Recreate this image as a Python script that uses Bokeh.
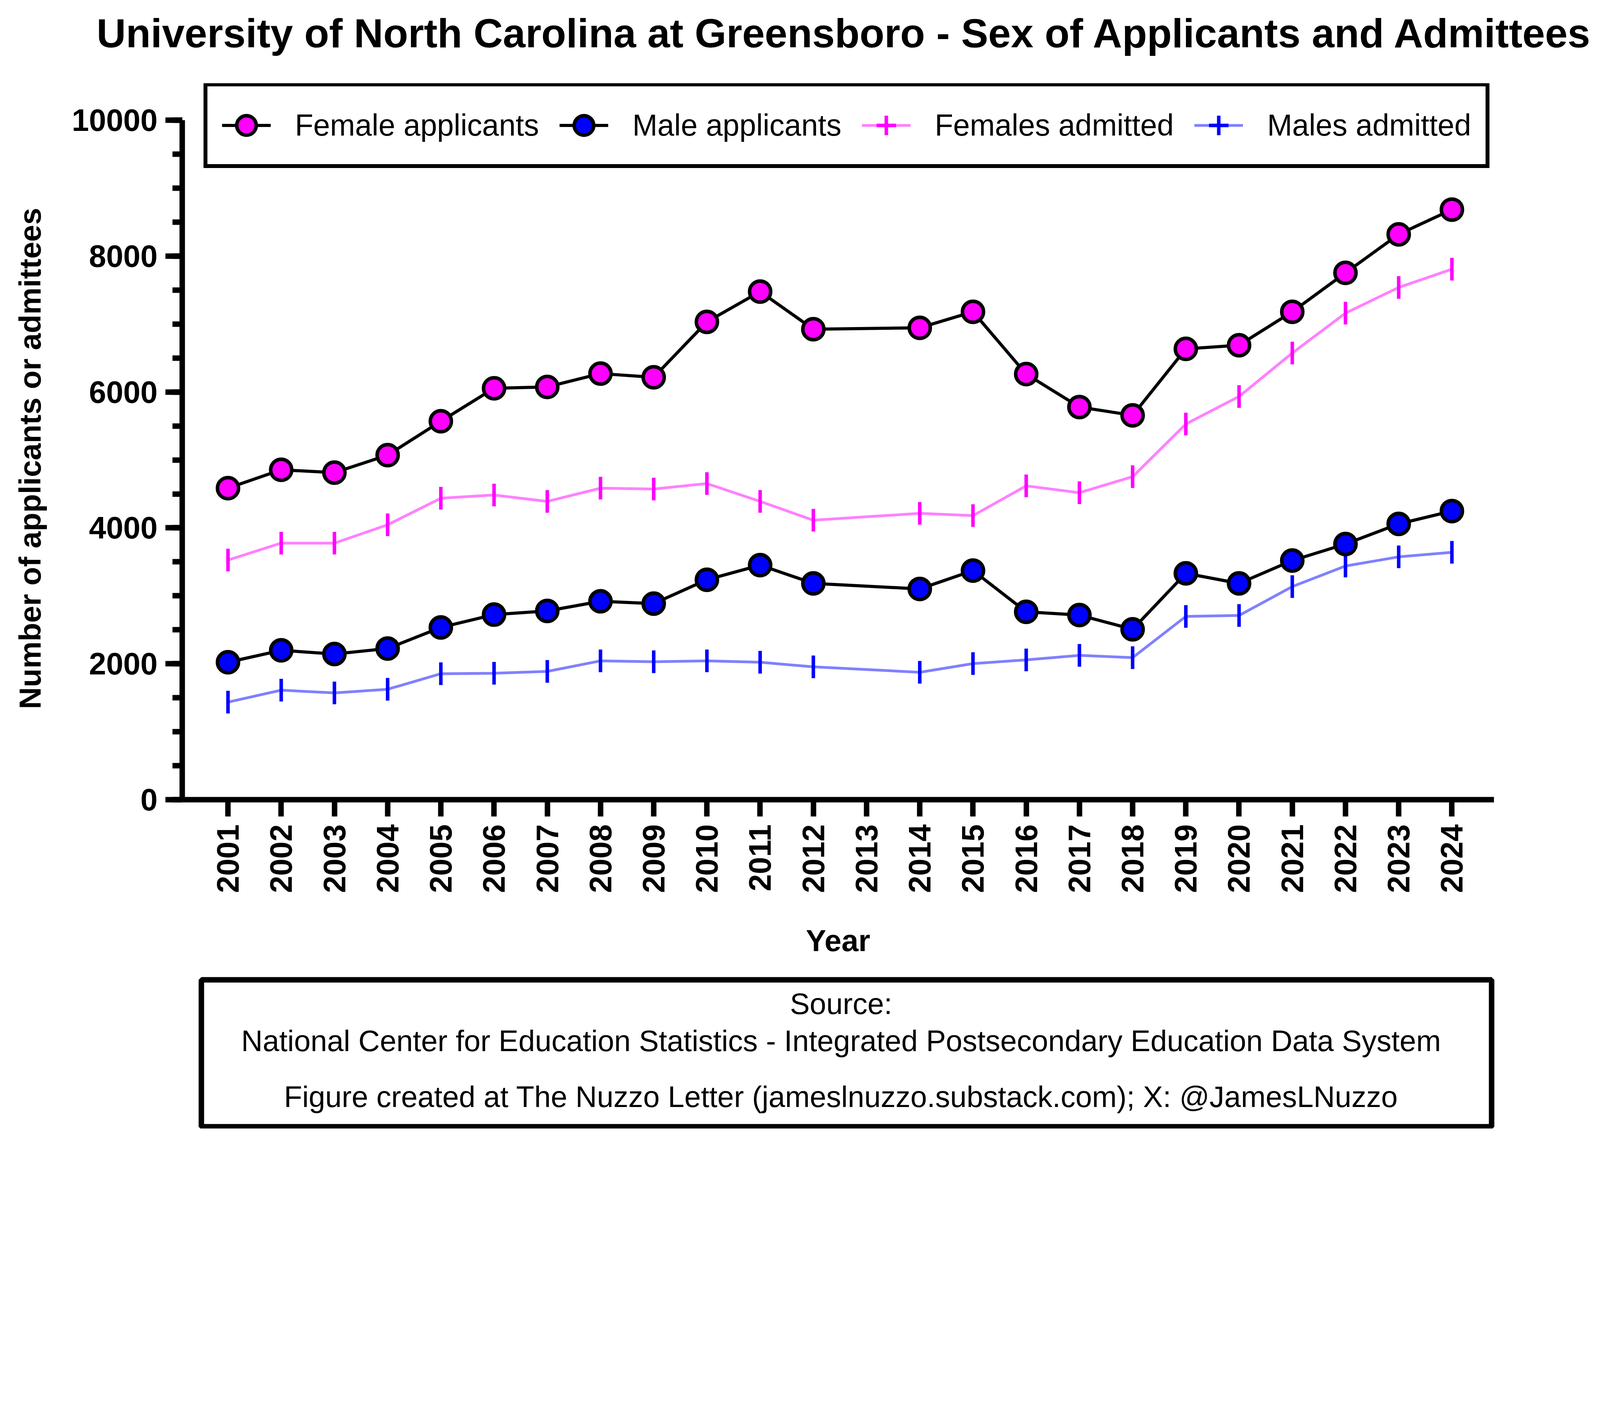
import math
import numpy as np
from bokeh.plotting import figure
from bokeh.models import Legend, LegendItem, FixedTicker, SingleIntervalTicker, Range1d, ColumnDataSource
from bokeh.layouts import column
from bokeh.core.properties import value
from bokeh.embed import file_html
from bokeh.resources import INLINE

FONT = "Liberation Sans"

# ---------------- data ----------------
years = [2001, 2002, 2003, 2004, 2005, 2006, 2007, 2008, 2009, 2010, 2011, 2012,
         2014, 2015, 2016, 2017, 2018, 2019, 2020, 2021, 2022, 2023, 2024]
female_applicants = [4585, 4855, 4814, 5071, 5570, 6055, 6075, 6271, 6217, 7033, 7478, 6925,
                     6945, 7181, 6264, 5779, 5657, 6635, 6689, 7181, 7754, 8321, 8685]
male_applicants = [2023, 2198, 2144, 2225, 2535, 2724, 2778, 2920, 2886, 3237, 3452, 3183,
                   3102, 3372, 2765, 2717, 2508, 3331, 3183, 3520, 3763, 4059, 4248]
females_admitted = [3527, 3776, 3776, 4046, 4437, 4484, 4390, 4585, 4572, 4653, 4390, 4113,
                    4214, 4181, 4619, 4518, 4754, 5529, 5934, 6574, 7161, 7539, 7808]
males_admitted = [1436, 1612, 1571, 1625, 1854, 1861, 1888, 2043, 2030, 2043, 2023, 1955,
                  1875, 2003, 2057, 2124, 2090, 2697, 2711, 3136, 3439, 3574, 3641]
tick_years = [2001, 2002, 2003, 2004, 2005, 2006, 2007, 2008, 2009, 2010, 2011, 2012,
              2013, 2014, 2015, 2016, 2017, 2018, 2019, 2020, 2021, 2022, 2023, 2024]

title_text = ["University of North Carolina at Greensboro - Sex of Applicants and Admittees"]
source_lines = ["Source:",
                "National Center for Education Statistics - Integrated Postsecondary Education Data System",
                "Figure created at The Nuzzo Letter (jameslnuzzo.substack.com); X: @JamesLNuzzo"]
source_y = [0.8385, 0.5855, 0.2045]

src = ColumnDataSource(dict(year=years, fa=female_applicants, ma=male_applicants,
                            fad=females_admitted, mad=males_admitted))
# placeholder source for legend-only keys (no visible point)
key_src = ColumnDataSource(dict(x=np.array([np.nan]), y=np.array([np.nan])))

W = 4080
NB = "\u00a0"

# ---------------- title figure ----------------
t = figure(width=W, height=160, x_range=Range1d(0, 1), y_range=Range1d(0, 1),
           min_border=0, toolbar_location=None, output_backend="svg", title=None,
           x_axis_location=None, y_axis_location=None, outline_line_color=None,
           frame_align=False)
t.grid.visible = False
t.text(x=[0.530], y=[0.4695], text=title_text, text_font=value(FONT),
       text_font_size="104px", text_font_style="bold", text_align="center",
       text_baseline="alphabetic", text_color="black")

# ---------------- main figure ----------------
p = figure(frame_width=3358, frame_height=1833,
           x_range=Range1d(2000.14, 2024.79), y_range=Range1d(0, 10542),
           min_border_left=466, min_border_right=W - 466 - 3358, min_border_top=53,
           min_border_bottom=449, toolbar_location=None, output_backend="svg",
           outline_line_color=None, title=None, frame_align=False)
p.grid.visible = False

# admitted lines + vertical tick markers
fad_line = p.line("year", "fad", source=src, line_color="#FF80FF", line_width=7)
p.scatter("year", "fad", source=src, marker="dash", size=58, angle=math.pi / 2,
          line_color="#FF00FF", line_width=9)
mad_line = p.line("year", "mad", source=src, line_color="#8080FF", line_width=7)
p.scatter("year", "mad", source=src, marker="dash", size=58, angle=math.pi / 2,
          line_color="#0000FF", line_width=9)
# legend keys: line + tick, drawn only inside the legend
fad_key = p.scatter("x", "y", source=key_src, marker="cross", line_color="#FF00FF", line_width=9)
mad_key = p.scatter("x", "y", source=key_src, marker="cross", line_color="#0000FF", line_width=9)

# applicants lines + circles
fa_line = p.line("year", "fa", source=src, line_color="black", line_width=8)
fa_mark = p.scatter("year", "fa", source=src, marker="circle", size=54,
                    fill_color="#FF00FF", line_color="black", line_width=9)
ma_line = p.line("year", "ma", source=src, line_color="black", line_width=8)
ma_mark = p.scatter("year", "ma", source=src, marker="circle", size=54,
                    fill_color="#0000FF", line_color="black", line_width=9)

for ax in (p.xaxis[0], p.yaxis[0]):
    ax.axis_line_width = 14
    ax.axis_line_color = "black"
    ax.major_tick_line_width = 14
    ax.major_tick_line_color = "black"
    ax.minor_tick_line_width = 14
    ax.minor_tick_line_color = "black"
    ax.major_tick_out = 43
    ax.major_tick_in = 0
    ax.minor_tick_out = 25
    ax.minor_tick_in = 0
    ax.major_label_text_font = FONT
    ax.major_label_text_font_style = "bold"
    ax.major_label_text_font_size = "79px"
    ax.major_label_text_color = "black"
    ax.axis_label_text_font = FONT
    ax.axis_label_text_font_style = "bold"
    ax.axis_label_text_font_size = "78px"
    ax.axis_label_text_color = "black"

xa = p.xaxis[0]
xa.ticker = FixedTicker(ticks=tick_years)
xa.minor_tick_line_color = None
xa.major_label_orientation = math.pi / 2
xa.major_label_standoff = 20
xa.axis_label = "Year"
xa.axis_label_standoff = 75

ya = p.yaxis[0]
ya.ticker = SingleIntervalTicker(interval=2000, num_minor_ticks=4)
ya.bounds = (0, 10000)
ya.major_label_standoff = 20
ya.axis_label = "Number of applicants or admittees" + NB * 4
ya.axis_label_standoff = 60

legend = Legend(items=[
    LegendItem(label="Female applicants", renderers=[fa_line, fa_mark]),
    LegendItem(label="Male applicants", renderers=[ma_line, ma_mark]),
    LegendItem(label="Females admitted", renderers=[fad_line, fad_key]),
    LegendItem(label="Males admitted", renderers=[mad_line, mad_key]),
], orientation="horizontal", location=(55, 1616), margin=0, padding=37, spacing=52,
    label_standoff=62, glyph_width=125, glyph_height=125, label_height=125,
    border_line_color="black", border_line_width=10, border_line_alpha=1.0,
    background_fill_color="white", background_fill_alpha=1.0,
    label_text_font=FONT, label_text_font_size="77px", label_text_color="black")
p.add_layout(legend)

# ---------------- footer figure ----------------
f = figure(frame_width=3303, frame_height=376, x_range=Range1d(0, 1), y_range=Range1d(0, 1),
           min_border_left=515, min_border_right=W - 515 - 3303, min_border_top=12,
           min_border_bottom=5, toolbar_location=None, output_backend="svg", title=None,
           x_axis_location=None, y_axis_location=None,
           outline_line_color="black", outline_line_width=14, outline_line_alpha=1.0,
           frame_align=False)
f.grid.visible = False
f.text(x=[0.4958] * len(source_lines), y=source_y, text=source_lines, text_font=value(FONT),
       text_font_size="76px", text_align="center", text_baseline="alphabetic",
       text_color="black")

layout = column(t, p, f, spacing=0)
open("out.html", "w").write(file_html(layout, INLINE))
